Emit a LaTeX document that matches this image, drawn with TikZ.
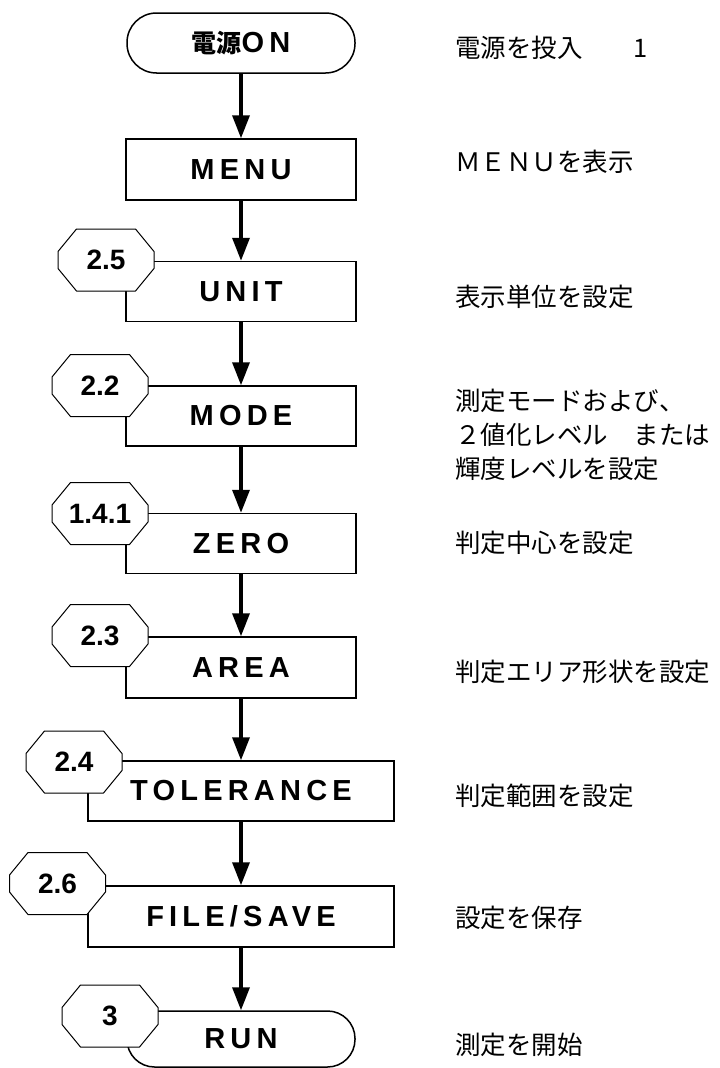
\documentclass[tikz,border=0pt]{standalone}
\usepackage{fontspec}
\setmainfont{Liberation Sans}
\newfontfamily\jpfont{Noto Sans CJK JP}
\newfontfamily\boxfont[LetterSpace=18]{Liberation Sans}
\usetikzlibrary{arrows.meta}

\begin{document}
\begin{tikzpicture}[x=1pt, y=-1pt,
  stepbox/.style={draw, line width=1.5pt, minimum width=230pt, minimum height=60pt, inner sep=0pt, font={\boxfont\bfseries\fontsize{29}{34}\selectfont}},
  widebox/.style={stepbox, minimum width=306pt},
  termbox/.style={stepbox, minimum width=228pt, rounded corners=29.5pt},
  refline/.style={draw, fill=white, line width=1pt},
  reflabel/.style={inner sep=0pt, font={\bfseries\fontsize{28}{34}\selectfont}},
  note/.style={anchor=west, inner sep=0pt, align=left, font={\jpfont\fontsize{25.5}{34}\selectfont}},
  flow/.style={line width=3.5pt, -{Triangle[width=17pt, length=23pt]}}]
\useasboundingbox (0,0) rectangle (720,1068);

\node (start) at (241,43) [termbox] {{\jpfont\bfseries\fontsize{25}{28}\selectfont 電源}ON};
\node (menu) at (241,169.5) [stepbox, minimum height=61pt] {MENU};
\node (unit) at (241,291.5) [stepbox] {UNIT};
\node (mode) at (241,416) [stepbox] {MODE};
\node (zero) at (241,543.5) [stepbox] {ZERO};
\node (area) at (241,667.5) [stepbox, minimum height=61pt] {AREA};
\node (tol) at (241,791) [widebox] {TOLERANCE};
\node (save) at (241,916.5) [widebox, minimum height=61pt] {FILE/SAVE};
\node (run) at (241,1039) [termbox, minimum height=56pt, rounded corners=27.5pt] {RUN};

\foreach \nm/\cx/\cy/\txt in {r25/106/260/2.5, r22/100/385.5/2.2, r141/100/513.5/1.4.1, r23/100/635.5/2.3, r24/74/762/2.4, r26/57.5/883.5/2.6, r3/110/1016/3} {
  \draw[refline] (\cx,\cy) ++(-29.5,-31) -- ++(59,0) -- ++(18.5,22.5) -- ++(0,17) -- ++(-18.5,22.5) -- ++(-59,0) -- ++(-18.5,-22.5) -- ++(0,-17) -- cycle;
  \node (\nm) at (\cx,\cy) [reflabel] {\txt};
}

\node (n1) at (455,48) [note] {電源を投入　　1};
\node (n2) at (455,162) [note] {ＭＥＮＵを表示};
\node (n3) at (455,297) [note] {表示単位を設定};
\node (n4) at (455,435) [note] {測定モードおよび、\\２値化レベル　または\\輝度レベルを設定};
\node (n5) at (455,543) [note] {判定中心を設定};
\node (n6) at (455,672) [note] {判定エリア形状を設定};
\node (n7) at (455,796) [note] {判定範囲を設定};
\node (n8) at (455,918) [note] {設定を保存};
\node (n9) at (455,1045) [note] {測定を開始};

\draw[flow] (start) -- (menu);
\draw[flow] (menu) -- (unit);
\draw[flow] (unit) -- (mode);
\draw[flow] (mode) -- (zero);
\draw[flow] (zero) -- (area);
\draw[flow] (area) -- (tol);
\draw[flow] (tol) -- (save);
\draw[flow] (save) -- (run);
\end{tikzpicture}
\end{document}
